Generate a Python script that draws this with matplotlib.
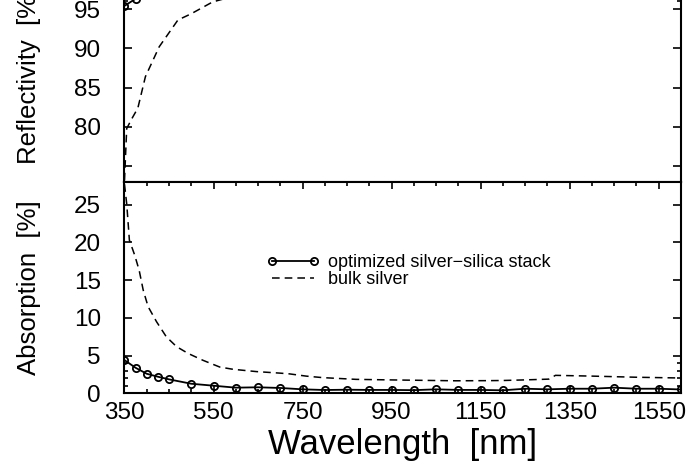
import matplotlib
matplotlib.use("Agg")
import matplotlib.pyplot as plt
from matplotlib.ticker import MultipleLocator, FixedLocator

plt.rcParams['font.family'] = ['Liberation Sans', 'DejaVu Sans']

# optimized silver-silica stack (markers)
stack_wl = [350, 375, 400, 425, 450, 500, 550, 600, 650, 700, 750, 800, 850, 900,
            950, 1000, 1050, 1100, 1150, 1200, 1250, 1300, 1350, 1400, 1450, 1500, 1550, 1600]
stack_refl = [95.4, 96.3, 97.1, 97.5, 97.9, 98.4, 98.7, 98.9, 98.9, 99.0, 99.1, 99.2, 99.2, 99.2,
              99.2, 99.3, 99.2, 99.2, 99.2, 99.3, 99.1, 99.2, 99.1, 99.1, 99.0, 99.1, 99.1, 99.2]
stack_abs = [4.42, 3.4, 2.61, 2.22, 1.87, 1.29, 1.03, 0.77, 0.82, 0.73, 0.55, 0.46, 0.5, 0.47,
             0.47, 0.44, 0.55, 0.47, 0.47, 0.42, 0.63, 0.55, 0.63, 0.63, 0.77, 0.63, 0.63, 0.53]

# bulk silver (dashed)
bulk_refl_wl = [350, 355, 366, 380, 397, 428, 470, 500, 548, 600, 700, 800, 1000, 1200,
                1300, 1320, 1400, 1600]
bulk_refl = [73.2, 79.8, 81.0, 82.4, 86.4, 90.2, 93.6, 94.4, 95.9, 96.7, 97.3, 97.8, 98.1, 98.2,
             98.1, 97.6, 97.7, 97.9]
bulk_abs_wl = [350, 355, 361, 373, 383, 392, 403, 422, 444, 467, 493, 526, 564, 594, 646,
               698, 720, 758, 795, 870, 944, 1094, 1168, 1200, 1250, 1303, 1318, 1400, 1500, 1600]
bulk_abs = [27.7, 25.1, 20.3, 18.3, 16.3, 13.7, 11.5, 9.5, 7.5, 6.2, 5.3, 4.4, 3.5, 3.2, 2.9,
            2.7, 2.6, 2.3, 2.1, 1.87, 1.8, 1.68, 1.7, 1.72, 1.8, 1.9, 2.4, 2.3, 2.15, 2.05]

x_ticks = [350, 550, 750, 950, 1150, 1350, 1550]

fig = plt.figure(figsize=(6.92, 4.65), dpi=100)
# top panel runs off the top of the canvas, as in the cropped original
ax_top = fig.add_axes([0.1799, 0.6086, 0.8042, 0.4566])
ax_bot = fig.add_axes([0.1799, 0.1538, 0.8042, 0.4548])

line_kw = dict(color='black', lw=1.3, marker='o', ms=5.2, mfc='none', mec='black', mew=1.3)
dash_kw = dict(color='black', lw=1.1, ls=(0, (5, 3.3)))

ax_top.plot(stack_wl, stack_refl, **line_kw)
ax_top.plot(bulk_refl_wl, bulk_refl, **dash_kw)
ax_bot.plot(stack_wl, stack_abs, label='optimized silver\u2212silica stack', **line_kw)
ax_bot.plot(bulk_abs_wl, bulk_abs, label='bulk silver', **dash_kw)

for ax in (ax_top, ax_bot):
    ax.set_xlim(350, 1600)
    for s in ax.spines.values():
        s.set_linewidth(1.5)
    ax.tick_params(axis='y', which='both', direction='in', left=True, right=True,
                   labelsize=17.5, pad=17, width=1.2)
    ax.tick_params(axis='y', which='major', length=5.5)
    ax.tick_params(axis='y', which='minor', length=3.2)
    ax.xaxis.set_major_locator(FixedLocator(x_ticks))
    ax.xaxis.set_minor_locator(MultipleLocator(50))

ax_top.set_ylim(73, 100)
ax_top.yaxis.set_major_locator(FixedLocator([75, 80, 85, 90, 95, 100]))
ax_top.yaxis.set_minor_locator(FixedLocator([96, 97, 98, 99]))
ax_top.set_yticklabels(['', '80', '85', '90', '95', '100'])
ax_top.tick_params(axis='x', which='both', bottom=False, top=False, labelbottom=False)
ax_top.set_ylabel('Reflectivity  [%]', fontsize=18.5)
ax_top.yaxis.set_label_coords(-0.15, 0.5)

ax_bot.set_ylim(0, 28)
ax_bot.yaxis.set_major_locator(FixedLocator([0, 5, 10, 15, 20, 25]))
ax_bot.yaxis.set_minor_locator(FixedLocator([1, 2, 3, 4]))
ax_bot.tick_params(axis='x', which='both', direction='in', bottom=True, top=True,
                   labelsize=17.5, pad=6, width=1.2)
ax_bot.tick_params(axis='x', which='major', length=4.7)
ax_bot.tick_params(axis='x', which='minor', length=3.2)
ax_bot.set_ylabel('Absorption  [%]', fontsize=18.5)
ax_bot.yaxis.set_label_coords(-0.15, 0.5)
ax_bot.set_xlabel('Wavelength  [nm]', fontsize=25)
ax_bot.xaxis.set_label_coords(0.5, -0.165)

ax_bot.legend(loc='center left', bbox_to_anchor=(0.256, 0.578), frameon=False,
              fontsize=13, borderpad=0, borderaxespad=0, handlelength=2.9,
              handletextpad=0.5, labelspacing=0.0, numpoints=2)

fig.savefig('out.png', dpi=100)
